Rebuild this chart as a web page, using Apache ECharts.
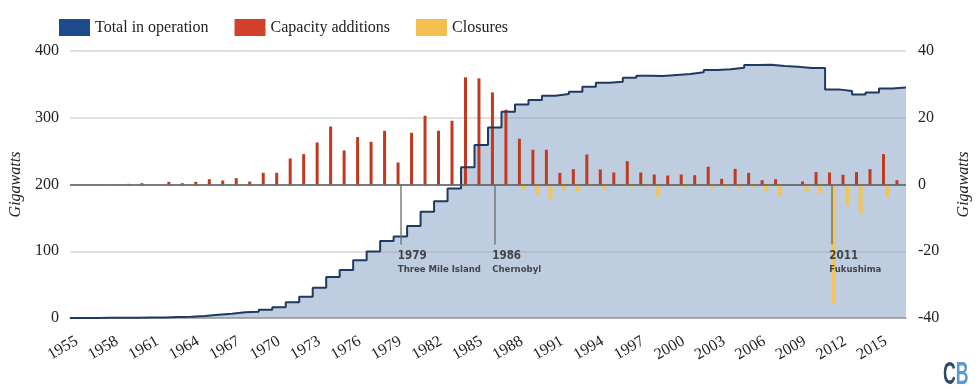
<!DOCTYPE html>
<html>
<head>
<meta charset="utf-8">
<script src="https://cdn.jsdelivr.net/npm/echarts@6/dist/echarts.min.js"></script>
<style>html,body{margin:0;padding:0;background:#fff;}#chart{width:980px;height:389px;}</style>
</head>
<body>
<div id="chart"></div>
<script>
const years = ['1955','1956','1957','1958','1959','1960','1961','1962','1963','1964','1965','1966','1967','1968','1969','1970','1971','1972','1973','1974','1975','1976','1977','1978','1979','1980','1981','1982','1983','1984','1985','1986','1987','1988','1989','1990','1991','1992','1993','1994','1995','1996','1997','1998','1999','2000','2001','2002','2003','2004','2005','2006','2007','2008','2009','2010','2011','2012','2013','2014','2015','2016'];

// Total in operation (GW, left axis)
const totalInOperation = [0.1,0.1,0.2,0.3,0.4,0.6,0.7,1.4,1.8,3,5,6.5,8.5,9.5,12.5,16,23.5,32,45.5,61.5,72,86.5,99.5,115.5,122,138,159,175,194,226,259,285.5,309,320,326.5,333,335.5,339,346.5,352.5,354,360,363,362.5,364,365.5,368,371.5,372.5,375,379,379.5,377.5,376.5,374.5,374.5,342.5,340,335,338,344,345.5];

// Capacity additions (GW, right axis)
const capacityAdditions = [0.05,0.1,0.1,0.1,0.2,0.4,0,0.8,0.4,0.8,1.6,1.2,1.9,0.9,3.5,3.5,7.8,9.1,12.6,17.4,10.2,14.2,12.8,16.1,6.6,15.5,20.6,16.1,19.1,32.1,31.8,27.6,22.4,13.7,10.4,10.4,3.5,4.6,9.0,4.5,3.6,7.0,3.6,3.0,2.7,3.0,2.8,5.3,1.7,4.7,3.5,1.3,1.6,0,0.9,3.7,3.6,2.9,3.7,4.6,9.1,1.3];

// Closures (GW, right axis)
const closures = [0,0,0,0,0,0,0,0,0,0,0,0,0,0,0,0,0,0,0,0,0,0,-0.4,0,0,0,0,0,0,0,0,0,0,-1.5,-3,-4.5,-1.7,-2,-0.6,-1.5,-0.3,-0.8,-0.7,-4,-0.5,-1,-0.5,-1.2,-0.8,-1.2,-0.8,-2.2,-3.5,0,-2.2,-2.7,-35.5,-6.4,-8.9,0,-3.7,0];

const eventYears = ['1979','1986','2011'];
const eventNames = ['Three Mile Island','Chernobyl','Fukushima'];

const annotationEnd = -18;
const stepData = totalInOperation.map((v, i) => [i, v]).concat([[totalInOperation.length, totalInOperation[totalInOperation.length - 1]]]);

const serif = 'Liberation Serif';
const chart = echarts.init(document.getElementById('chart'));
chart.setOption({
  animation: false,
  backgroundColor: '#fff',
  grid: { left: 68, right: 74, top: 51, bottom: 71 },
  legend: {
    top: 14, left: 54, itemWidth: 31, itemHeight: 17, itemGap: 26,
    textStyle: { fontFamily: serif, fontSize: 16, color: '#222' },
    data: [
      { name: 'Total in operation', icon: 'rect', itemStyle: { color: '#1c4a8a' } },
      { name: 'Capacity additions', icon: 'rect', itemStyle: { color: '#d1412b' } },
      { name: 'Closures', icon: 'rect', itemStyle: { color: '#f2c04c' } }
    ]
  },
  xAxis: [
    {
      type: 'category', data: years, boundaryGap: true,
      axisLine: { lineStyle: { color: '#9a9a9a', width: 1.5 } },
      axisTick: { show: false },
      axisLabel: { interval: 2, rotate: 30, fontFamily: serif, fontSize: 16, color: '#222', margin: 22 }
    },
    { type: 'value', min: 0, max: years.length, show: false }
  ],
  yAxis: [
    {
      type: 'value', min: 0, max: 400, interval: 100, position: 'left',
      axisLine: { show: false }, axisTick: { show: false },
      splitLine: { lineStyle: { color: '#d6d6d6', width: 1.5 } },
      axisLabel: { fontFamily: serif, fontSize: 16, color: '#222', margin: 11 },
      name: 'Gigawatts', nameLocation: 'middle', nameGap: 46,
      nameTextStyle: { fontFamily: serif, fontStyle: 'italic', fontSize: 16, color: '#222' }
    },
    {
      type: 'value', min: -40, max: 40, interval: 20, position: 'right',
      axisLine: { show: false }, axisTick: { show: false },
      splitLine: { show: false },
      axisLabel: { fontFamily: serif, fontSize: 16, color: '#222', margin: 12 },
      name: 'Gigawatts', nameLocation: 'middle', nameGap: 50,
      nameTextStyle: { fontFamily: serif, fontStyle: 'italic', fontSize: 16, color: '#222' }
    }
  ],
  series: [
    {
      name: 'Total in operation', type: 'line', xAxisIndex: 1, yAxisIndex: 0,
      data: stepData, step: 'end', symbol: 'none', z: 1,
      lineStyle: { width: 0 },
      areaStyle: { color: 'rgba(127,156,194,0.5)', opacity: 1 },
      itemStyle: { color: '#1c4a8a' }
    },
    {
      name: 'Capacity additions', type: 'bar', xAxisIndex: 0, yAxisIndex: 1,
      data: capacityAdditions, barWidth: 3, barGap: '20%', z: 2,
      itemStyle: { color: '#c2391f' },
      markLine: {
        silent: true, symbol: 'none', label: { show: false },
        lineStyle: { color: '#5a5a5a', width: 1.5, type: 'solid' },
        data: [{ yAxis: 0 }]
      }
    },
    {
      name: 'Closures', type: 'bar', xAxisIndex: 0, yAxisIndex: 1,
      data: closures, barWidth: 4, z: 2,
      itemStyle: { color: '#f3c45a' }
    },
    {
      name: 'Total in operation', type: 'line', xAxisIndex: 1, yAxisIndex: 0,
      data: stepData, step: 'end', symbol: 'none', z: 4,
      lineStyle: { color: '#1f3a62', width: 2 },
      itemStyle: { color: '#1c4a8a' }
    },
    {
      name: 'events', type: 'scatter', xAxisIndex: 0, yAxisIndex: 1, z: 5,
      symbolSize: 1, itemStyle: { color: 'transparent' },
      data: eventYears.map((y, i) => ({ value: [y, annotationEnd], name: eventNames[i] })),
      label: {
        show: true, position: [-2, 5], align: 'left', verticalAlign: 'top',
        formatter: p => '{y|' + p.value[0] + '}\n{n|' + p.name + '}',
        rich: {
          y: { fontFamily: 'DejaVu Sans Condensed', fontWeight: 'bold', fontSize: 11.5, color: '#222', lineHeight: 14 },
          n: { fontFamily: 'DejaVu Sans Condensed', fontWeight: 'bold', fontSize: 9.5, color: '#222', lineHeight: 12 }
        }
      },
      markLine: {
        silent: true, symbol: 'none', label: { show: false },
        lineStyle: { color: '#6e6e6e', width: 1.5, type: 'solid', opacity: 0.9 },
        data: eventYears.map(y => [{ coord: [y, 0] }, { coord: [y, annotationEnd] }])
      }
    }
  ],
  graphic: [
    {
      type: 'text', x: 943, y: 360, scaleX: 0.57, scaleY: 1,
      style: {
        text: '{c|C}{b|B}', verticalAlign: 'top',
        rich: {
          c: { fontFamily: 'Liberation Sans', fontWeight: 'bold', fontSize: 31, fill: '#2c4a6a' },
          b: { fontFamily: 'Liberation Sans', fontWeight: 'bold', fontSize: 31, fill: '#5b9bd3' }
        }
      }
    }
  ]
});
</script>
</body>
</html>
